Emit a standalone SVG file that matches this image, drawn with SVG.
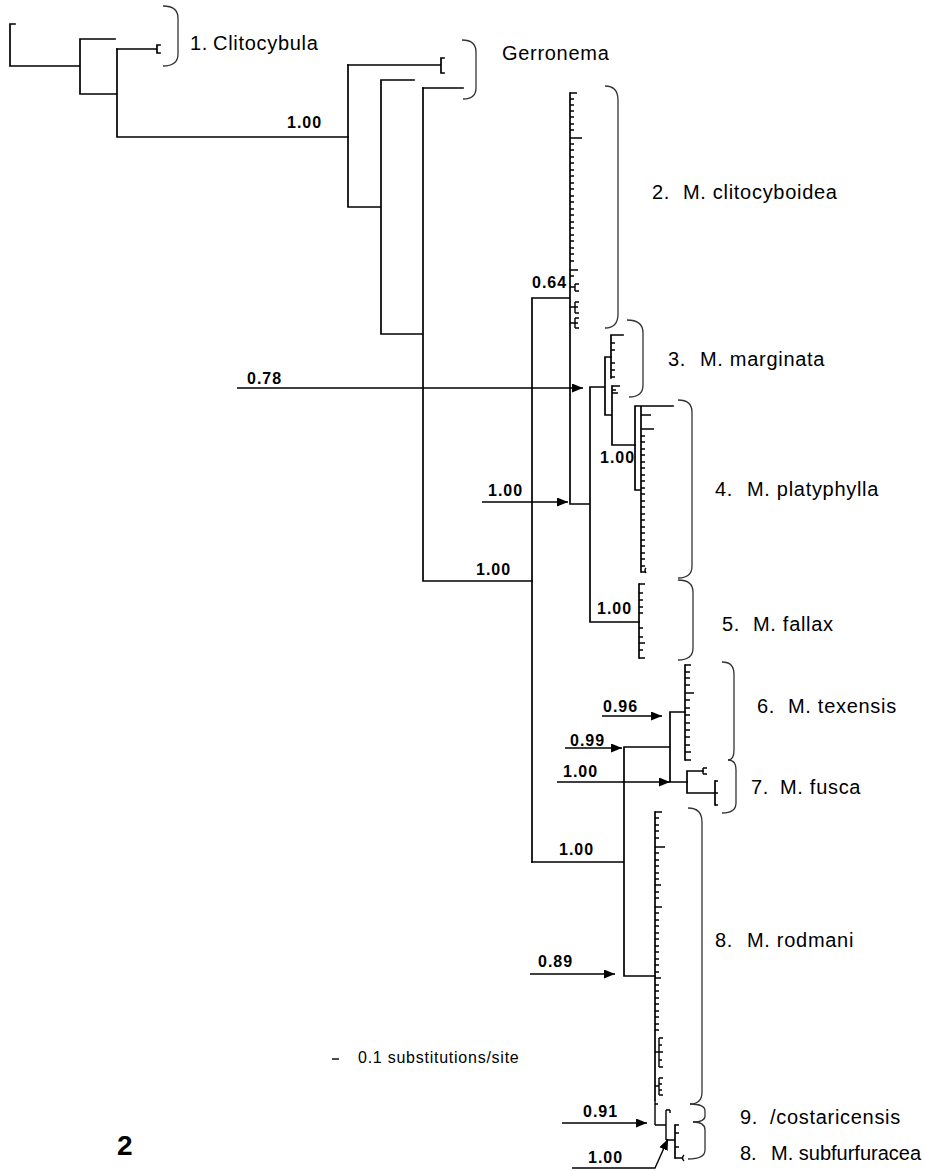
<svg xmlns="http://www.w3.org/2000/svg" width="925" height="1171" viewBox="0 0 925 1171">
<style>
.br{fill:none;stroke:#000;stroke-width:1.7;stroke-linecap:square}
.tk{fill:none;stroke:#000;stroke-width:1.4}
.bk{fill:none;stroke:#333;stroke-width:1.3}
.ar{fill:none;stroke:#000;stroke-width:1.4}
.lab{font-family:"Liberation Sans",Arial,sans-serif;font-size:20px;letter-spacing:0.7px;fill:#000}
.sup{font-family:"Liberation Sans",Arial,sans-serif;font-size:16px;font-weight:bold;letter-spacing:1px;fill:#000}
.sc{font-family:"Liberation Sans",Arial,sans-serif;font-size:16px;letter-spacing:0.75px;fill:#000}
.fig{font-family:"Liberation Sans",Arial,sans-serif;font-size:28px;font-weight:bold;fill:#000}
</style>
<defs>
<marker id="ah" markerWidth="11" markerHeight="9" refX="11" refY="4.5" orient="auto" markerUnits="userSpaceOnUse"><path d="M0,0L11,4.5L0,9z" fill="#000"/></marker>
</defs>
<rect width="925" height="1171" fill="#fff"/>

<g id="connectors">
<path class="br" d="M10,24V66M10,24h5M10,66H80M80,39V94M80,39H115M80,94H117M117,49V137M117,137H348"/>
<path class="br" d="M348,65V207M348,207H381M381,80V334M381,80H414M381,334H423M423,88V581M423,581H532"/>
<path class="br" d="M532,298V862M532,298H570M570,93V504M570,504H590M590,387V622M590,387H605M605,357V415M605,357H611M605,415H612M612,386V445M612,445H635M590,622H639"/>
<path class="br" d="M532,862H624M624,747V976M624,747H670M670,712V782M670,712H685M670,782H687M624,976H655"/>
<path class="br" d="M655,812V1100"/>
<path class="tk" d="M655,1100V1125M655,1125H666M666,1110V1140M666,1140H675"/>
</g>

<g id="clade-clitocybula">
<path class="br" d="M117,49H157M157,45V53M157,45h3M157,53h3"/>
<path class="bk" d="M163,6Q178,6 178,18V54Q178,66 163,66"/>
<text class="lab" y="50"><tspan x="190">1.</tspan><tspan x="213">Clitocybula</tspan></text>
</g>

<g id="clade-gerronema">
<path class="br" d="M348,65H441M441,58V73M441,58h3M441,73h3M423,88H463"/>
<path class="bk" d="M462,40Q476,40 476,52V88Q476,99 463,99"/>
<text class="lab" x="502" y="60">Gerronema</text>
</g>

<g id="clade-clitocyboidea">
<path class="tk" d="M570,93h7M570,99h4M570,105h4M570,111h4M570,117h4M570,124h4M570,130h4M570,138h12M570,144h4M570,150h4M570,157h4M570,163h4M570,170h4M570,176h4M570,183h4M570,189h4M570,196h4M570,202h4M570,209h4M570,215h4M570,222h4M570,228h4M570,235h4M570,241h4M570,248h4M570,254h4M570,261h4M570,270h8M570,276h4"/>
<path class="tk" d="M570,287h5M575,284V291M575,284h4M575,291h4M570,307h5M575,302V313M575,302h4M575,307h3M575,313h4M570,323h5M575,318V328M575,318h4M575,323h3M575,328h4"/>
<path class="bk" d="M605,86Q618,86 618,100V314Q618,328 605,328"/>
<text class="lab" y="199"><tspan x="652">2.</tspan><tspan x="683">M. clitocyboidea</tspan></text>
</g>

<g id="clade-marginata">
<path class="br" d="M611,335V378M611,335H623"/>
<path class="tk" d="M611,343h4M611,350h4M611,363h4M611,370h4M611,377h4M612,386h8M612,390h4M612,393h6"/>
<path class="bk" d="M627,320Q643,320 643,333V385Q643,397 629,397"/>
<text class="lab" y="366"><tspan x="668">3.</tspan><tspan x="700">M. marginata</tspan></text>
</g>

<g id="clade-platyphylla">
<path class="br" d="M635,406V490M635,406H673M635,490H641M641,406V572"/>
<path class="tk" d="M641,415h10M641,429h13M641,436h4M641,442h4M641,449h4M641,455h4M641,462h4M641,468h4M641,475h4M641,481h4M641,488h4M641,494h4M641,501h4M641,507h4M641,514h4M641,520h4M641,527h4M641,533h4M641,540h4M641,546h4M641,553h4M641,559h4M641,566h4M641,572h5M646,568Q644,570 646,573"/>
<path class="bk" d="M678,400Q692,400 692,412V566Q692,578 678,578"/>
<text class="lab" y="496"><tspan x="715">4.</tspan><tspan x="747">M. platyphylla</tspan></text>
</g>

<g id="clade-fallax">
<path class="br" d="M639,584V658"/>
<path class="tk" d="M639,584h6M639,593h4M639,600h4M639,607h4M639,613h4M639,628h4M639,637h4M639,643h6M639,650h4M639,658h6"/>
<path class="bk" d="M678,580Q693,580 693,592V648Q693,660 678,660"/>
<text class="lab" y="631"><tspan x="722">5.</tspan><tspan x="753">M. fallax</tspan></text>
</g>

<g id="clade-texensis">
<path class="br" d="M685,665V760"/>
<path class="tk" d="M685,665h6M685,672h5M685,678h5M685,685h5M685,693h9M685,700h5M685,708h5M685,715h5M685,723h5M685,730h5M685,737h5M685,745h5M685,752h6M685,760h6"/>
<path class="bk" d="M722,662Q734,662 734,674V750Q734,760 728,760"/>
<text class="lab" y="713"><tspan x="757">6.</tspan><tspan x="788">M. texensis</tspan></text>
</g>

<g id="clade-fusca">
<path class="br" d="M687,771V793M687,771H703M687,793H715M715,781V805"/>
<path class="tk" d="M703,768V774M703,768h4M703,774h4M715,781h3M715,793h3M715,805h3"/>
<path class="bk" d="M728,760Q736,760 736,770V803Q736,813 722,813"/>
<text class="lab" y="794"><tspan x="751">7.</tspan><tspan x="780">M. fusca</tspan></text>
</g>

<g id="clade-rodmani">
<path class="tk" d="M655,812h7M655,818h4M655,825h4M655,831h4M655,838h4M655,847h10M655,853h4M655,860h4M655,866h4M655,873h4M655,879h4M655,885h6M655,892h4M655,898h4M655,907h7M655,913h4M655,920h4M655,926h4M655,933h4M655,939h4M655,946h4M655,952h4M655,959h4M655,965h4M655,972h4M655,978h6M655,985h4M655,991h4M655,998h4M655,1004h4M655,1011h4M655,1017h4M655,1024h4M655,1030h4"/>
<path class="tk" d="M655,1052h4M659,1038V1067M659,1038h4M659,1045h3M659,1052h4M659,1060h3M659,1067h4M655,1086h4M659,1078V1095M659,1078h4M659,1084h3M659,1090h3M659,1095h4M655,1104h3"/>
<path class="bk" d="M688,808Q702,808 702,822V1092Q702,1104 690,1104"/>
<text class="lab" y="947"><tspan x="715">8.</tspan><tspan x="747">M. rodmani</tspan></text>
</g>

<g id="clade-costaricensis">
<path class="tk" d="M666,1110h4M670,1110v3"/>
<path class="bk" d="M690,1104Q705,1104 705,1111V1116Q705,1122 693,1122"/>
<text class="lab" y="1124"><tspan x="740">9.</tspan><tspan x="770">/costaricensis</tspan></text>
</g>

<g id="clade-subfurfuracea">
<path class="br" d="M675,1125V1158"/>
<path class="tk" d="M675,1125h4M675,1133h4M675,1147h4M675,1158h8M684,1155Q681,1158 684,1161"/>
<path class="bk" d="M693,1122Q705,1122 705,1130V1150Q705,1159 688,1159"/>
<text class="lab" y="1160" style="letter-spacing:0px"><tspan x="740">8.</tspan><tspan x="771">M. subfurfuracea</tspan></text>
</g>

<g id="support">
<text class="sup" x="287" y="128">1.00</text>
<text class="sup" x="476" y="575">1.00</text>
<text class="sup" x="532" y="288">0.64</text>
<text class="sup" x="247" y="384">0.78</text>
<line class="ar" x1="237" y1="388" x2="583" y2="388" marker-end="url(#ah)"/>
<text class="sup" x="488" y="496">1.00</text>
<line class="ar" x1="482" y1="502" x2="568" y2="502" marker-end="url(#ah)"/>
<text class="sup" x="600" y="463">1.00</text>
<text class="sup" x="597" y="614">1.00</text>
<text class="sup" x="603" y="712">0.96</text>
<line class="ar" x1="602" y1="716" x2="662" y2="716" marker-end="url(#ah)"/>
<text class="sup" x="570" y="746">0.99</text>
<line class="ar" x1="565" y1="748" x2="622" y2="748" marker-end="url(#ah)"/>
<text class="sup" x="563" y="777">1.00</text>
<line class="ar" x1="557" y1="782" x2="670" y2="782" marker-end="url(#ah)"/>
<text class="sup" x="559" y="855">1.00</text>
<text class="sup" x="538" y="967">0.89</text>
<line class="ar" x1="530" y1="974" x2="615" y2="974" marker-end="url(#ah)"/>
<text class="sup" x="583" y="1117">0.91</text>
<line class="ar" x1="562" y1="1123" x2="647" y2="1123" marker-end="url(#ah)"/>
<text class="sup" x="588" y="1163">1.00</text>
<polyline class="ar" points="572,1168 655,1168 668,1139" marker-end="url(#ah)"/>
</g>

<g id="scale">
<path class="tk" d="M332,1059h7"/>
<text class="sc" x="358" y="1063">0.1 substitutions/site</text>
</g>
<text class="fig" x="117" y="1155">2</text>
</svg>
